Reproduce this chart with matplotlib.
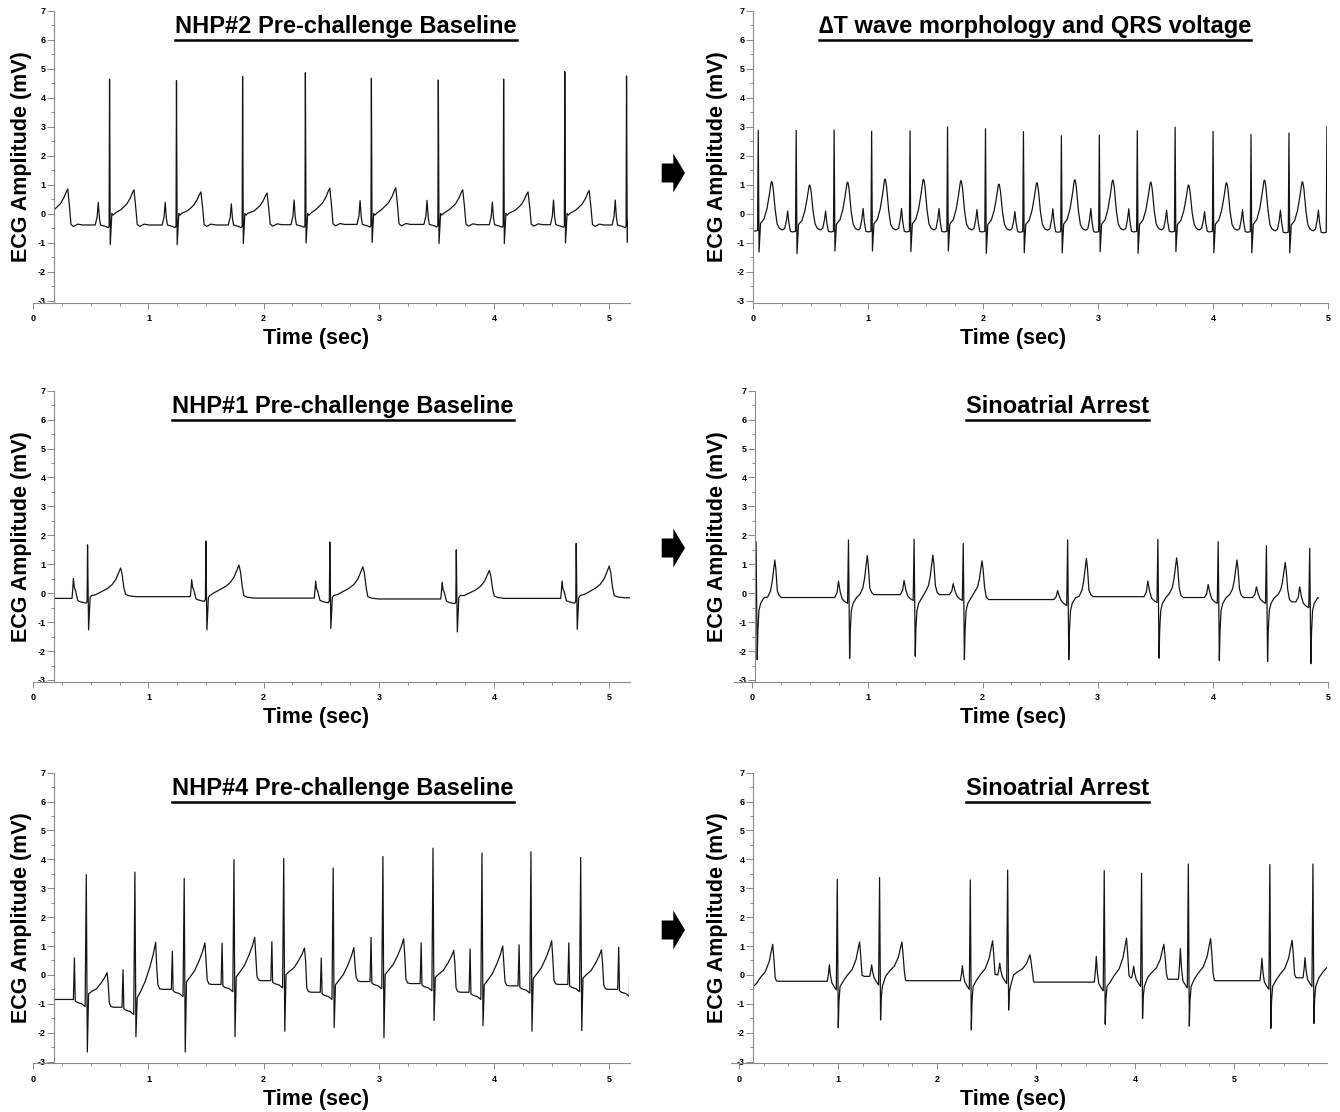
import numpy as np
import matplotlib
matplotlib.use("Agg")
import matplotlib.pyplot as plt
from matplotlib.patches import Polygon, Rectangle
from matplotlib.lines import Line2D
from matplotlib.transforms import IdentityTransform
from matplotlib.ticker import MultipleLocator, FuncFormatter

plt.rcParams['font.family'] = ['Liberation Sans', 'DejaVu Sans']

# ---- beat values (sec, mV) ----
# r_t: R peak times, r_v: R height, s_v: S depth, t_v: T peak after the beat,
# p_v: P peak before the beat, base: baseline level before the beat
# (first / last entries are beats just outside the visible window)

# NHP#2 pre-challenge baseline
nhp2_r_t = [0.087, 0.662, 1.243, 1.817, 2.362, 2.935, 3.516, 4.083, 4.614, 5.150]
nhp2_r_v = [4.70, 4.65, 4.60, 4.74, 4.87, 4.68, 4.62, 4.65, 4.91, 4.76]
nhp2_s_v = [-1.05, -1.06, -1.06, -1.02, -1.00, -0.98, -1.02, -1.02, -1.00, -0.98]
nhp2_t_v = [0.86, 0.83, 0.76, 0.72, 0.89, 0.90, 0.83, 0.76, 0.81, 0.80]
nhp2_p_v = [0.40, 0.40, 0.40, 0.35, 0.48, 0.46, 0.47, 0.41, 0.48, 0.48]
nhp2_base = [-0.38, -0.38, -0.38, -0.38, -0.37, -0.36, -0.36, -0.37, -0.37, -0.38]

# delta T wave morphology and QRS voltage
dt_r_t = [-0.287, 0.043, 0.373, 0.703, 1.029, 1.363, 1.689, 2.019, 2.349, 2.679,
          3.009, 3.339, 3.668, 3.998, 4.328, 4.658, 4.988]
dt_r_v = [2.90, 2.88, 2.88, 2.90, 2.85, 2.87, 3.00, 2.94, 2.84, 2.70,
          2.72, 2.87, 2.99, 2.85, 2.74, 2.79, 3.02]
dt_s_v = [-1.30, -1.31, -1.37, -1.28, -1.28, -1.30, -1.28, -1.36, -1.34, -1.34,
          -1.30, -1.36, -1.30, -1.34, -1.34, -1.34, -1.30]
dt_t_v = [1.10, 1.12, 1.00, 1.10, 1.20, 1.20, 1.15, 1.03, 1.08, 1.18,
          1.17, 1.10, 1.00, 1.08, 1.17, 1.11, 1.10]
dt_p_v = [0.12, 0.12, 0.10, 0.10, 0.19, 0.19, 0.19, 0.15, 0.08, 0.18,
          0.19, 0.18, 0.13, 0.08, 0.15, 0.13, 0.13]
dt_base = [-0.50, -0.52, -0.55, -0.55, -0.55, -0.55, -0.55, -0.55, -0.56, -0.56,
           -0.56, -0.55, -0.55, -0.55, -0.56, -0.58, -0.58]

# NHP#1 pre-challenge baseline
nhp1_r_t = [-0.600, 0.471, 1.498, 2.574, 3.672, 4.713, 5.750]
nhp1_r_v = [1.70, 1.67, 1.80, 1.77, 1.50, 1.72, 1.70]
nhp1_s_v = [-1.27, -1.27, -1.27, -1.22, -1.34, -1.25, -1.25]
nhp1_t_v = [0.90, 0.87, 0.97, 0.91, 0.79, 0.94, 0.90]
nhp1_p_v = [0.45, 0.51, 0.47, 0.42, 0.38, 0.42, 0.42]
nhp1_base = [-0.18, -0.18, -0.12, -0.17, -0.20, -0.18, -0.16]

# sinoatrial arrest (NHP#1)
sa1_r_t = [-0.800, 0.031, 0.834, 1.404, 1.831, 2.738, 3.522, 4.046, 4.465, 4.841, 5.500]
sa1_r_v = [1.70, 1.78, 1.84, 1.86, 1.72, 1.84, 1.86, 1.78, 1.64, 1.55, 1.70]
sa1_s_v = [-2.30, -2.30, -2.25, -2.18, -2.30, -2.30, -2.25, -2.33, -2.36, -2.44, -2.30]
sa1_t_v = [1.10, 1.15, 1.30, 1.32, 1.12, 1.20, 1.22, 1.15, 1.06, 1.00, 1.00]
sa1_p_v = [0.30, 0.30, 0.41, 0.44, 0.33, 0.09, 0.42, 0.30, 0.22, 0.22, 0.20]
sa1_base = [-0.20, -0.25, -0.15, -0.05, -0.05, -0.22, -0.12, -0.15, -0.15, -0.30, -0.30]

# NHP#4 pre-challenge baseline
nhp4_r_t = [-0.200, 0.460, 0.882, 1.310, 1.742, 2.174, 2.603, 3.035, 3.470,
            3.895, 4.320, 4.752, 5.185]
nhp4_r_v = [3.50, 3.47, 3.56, 3.34, 3.99, 4.03, 3.70, 4.10, 4.39, 4.22, 4.26, 4.07, 4.00]
nhp4_s_v = [-2.20, -2.67, -2.14, -2.67, -2.14, -1.95, -1.82, -2.18, -1.58, -1.76,
            -1.95, -1.93, -1.90]
nhp4_t_v = [-0.80, 0.08, 1.13, 1.11, 1.30, 0.93, 0.95, 1.25, 0.85, 1.00, 1.18, 0.87, 0.90]
nhp4_p_v = [0.50, 0.59, 0.18, 0.82, 1.10, 1.15, 0.59, 1.30, 1.11, 0.90, 1.04, 1.11, 0.96]
nhp4_base = [-0.90, -0.85, -1.12, -0.50, -0.33, -0.20, -0.60, -0.23, -0.30, -0.60,
             -0.38, -0.33, -0.50]

# sinoatrial arrest (NHP#4)
sa4_r_t = [0.116, 0.993, 1.420, 2.336, 2.713, 3.688, 4.065, 4.537, 5.360, 5.795, 6.300]
sa4_r_v = [3.30, 3.31, 3.37, 3.29, 3.63, 3.61, 3.52, 3.84, 3.82, 3.84, 3.50]
sa4_s_v = [-1.30, -1.83, -1.56, -1.90, -1.22, -1.71, -1.51, -1.77, -1.85, -1.68, -1.60]
sa4_t_v = [1.06, 1.14, 1.14, 1.18, 0.70, 1.27, 1.06, 1.26, 1.20, 1.20, 1.00]
sa4_p_v = [0.30, 0.35, 0.35, 0.32, 0.41, 0.64, 0.30, 0.91, 0.58, 0.60, 0.30]
sa4_base = [-0.30, -0.22, -0.05, -0.20, 0.00, -0.25, -0.10, -0.15, -0.20, -0.10, -0.20]

# beat shapes: (time from R, which value, weight, offset)
after_nhp2 = [(0.000, 'R', 1, 0), (0.006, 'S', 1, 0), (0.020, 'C', 0, 0.02),
              (0.030, 'C', 0, -0.04), (0.045, 'C', 0, 0.02), (0.100, 'T', 0.44, 0),
              (0.150, 'T', 0.60, 0), (0.180, 'T', 0.77, 0), (0.200, 'T', 0.93, 0),
              (0.212, 'T', 1.0, 0), (0.226, 'T', 0.55, 0), (0.240, 'B', 1, 0.02),
              (0.262, 'B', 1, -0.05), (0.300, 'B', 1, 0.03), (0.340, 'B', 1, 0.0)]
before_nhp2 = [(-0.125, 'B', 1, 0), (-0.108, 'P', 0.35, 0), (-0.098, 'P', 1, 0),
               (-0.088, 'P', 0.3, 0), (-0.078, 'B', 1, 0.0), (-0.035, 'B', 1, -0.05),
               (-0.012, 'B', 1, -0.09), (-0.004, 'B', 1, -0.04)]

after_dt = [(0.000, 'R', 1, 0), (0.007, 'S', 1, 0), (0.020, 'T', 0.12, 0),
            (0.050, 'T', 0.21, 0), (0.075, 'T', 0.42, 0), (0.095, 'T', 0.70, 0),
            (0.105, 'T', 0.87, 0), (0.112, 'T', 0.98, 0), (0.117, 'T', 1.0, 0),
            (0.122, 'T', 0.97, 0), (0.130, 'T', 0.85, 0), (0.148, 'T', 0.39, 0),
            (0.165, 'B', 1, 0.2), (0.185, 'B', 1, 0.05), (0.210, 'B', 1, 0.0)]
before_dt = [(-0.100, 'B', 1, 0.05), (-0.085, 'P', 0.5, 0), (-0.074, 'P', 1, 0),
             (-0.064, 'P', 0.4, 0), (-0.050, 'B', 1, -0.05), (-0.030, 'B', 1, -0.07),
             (-0.006, 'B', 1, -0.05)]

after_nhp1 = [(0.000, 'R', 1, 0), (0.009, 'S', 1, 0), (0.022, 'C', 0, -0.15),
              (0.035, 'C', 0, -0.08), (0.070, 'T', 0.12, 0), (0.120, 'T', 0.22, 0),
              (0.170, 'T', 0.32, 0), (0.210, 'T', 0.44, 0), (0.245, 'T', 0.62, 0),
              (0.270, 'T', 0.85, 0), (0.287, 'T', 1.0, 0), (0.300, 'T', 0.8, 0),
              (0.315, 'T', 0.35, 0), (0.330, 'B', 1, 0.08), (0.360, 'B', 1, 0.03),
              (0.420, 'B', 1, 0)]
before_nhp1 = [(-0.135, 'B', 1, 0), (-0.128, 'P', 0.5, 0), (-0.123, 'P', 1, 0),
               (-0.115, 'P', 0.55, 0), (-0.105, 'P', 0.4, 0), (-0.085, 'B', 1, -0.08),
               (-0.060, 'B', 1, -0.12), (-0.030, 'B', 1, -0.15), (-0.012, 'B', 1, -0.16),
               (-0.004, 'B', 1, -0.10)]

after_sa1 = [(0.000, 'R', 1, 0), (0.010, 'S', 1, 0), (0.016, 'S', 0.55, 0),
             (0.025, 'C', 0, -0.6), (0.040, 'C', 0, -0.35), (0.070, 'C', 0, -0.15),
             (0.100, 'T', 0.08, 0), (0.125, 'T', 0.23, 0), (0.140, 'T', 0.46, 0),
             (0.155, 'T', 0.81, 0), (0.163, 'T', 1.0, 0), (0.172, 'T', 0.77, 0),
             (0.185, 'T', 0.23, 0), (0.200, 'B', 1, 0.08), (0.220, 'B', 1, 0)]
before_sa1 = [(-0.120, 'B', 1, 0), (-0.100, 'P', 0.3, 0), (-0.087, 'P', 1, 0),
              (-0.072, 'P', 0.35, 0), (-0.055, 'B', 1, -0.05), (-0.030, 'B', 1, -0.15),
              (-0.008, 'B', 1, -0.20)]

after_nhp4 = [(0.000, 'R', 1, 0), (0.009, 'S', 1, 0), (0.020, 'T', 0.1, 0.1),
              (0.050, 'T', 0.2, 0.1), (0.090, 'T', 0.4, 0), (0.130, 'T', 0.62, 0),
              (0.160, 'T', 0.82, 0), (0.180, 'T', 1.0, 0), (0.190, 'T', 0.6, 0),
              (0.200, 'B', 1, 0.15), (0.215, 'B', 1, 0.02), (0.240, 'B', 1, 0)]
before_nhp4 = [(-0.112, 'B', 1, 0), (-0.103, 'P', 1, 0), (-0.096, 'B', 1, -0.05),
               (-0.080, 'B', 1, -0.10), (-0.040, 'B', 1, -0.15), (-0.010, 'B', 1, -0.25)]

after_sa4 = [(0.000, 'R', 1, 0), (0.010, 'S', 1, 0), (0.017, 'S', 0.5, 0),
             (0.028, 'C', 0, -0.4), (0.060, 'T', 0.0, 0), (0.100, 'T', 0.15, 0),
             (0.150, 'T', 0.30, 0), (0.190, 'T', 0.56, 0), (0.210, 'T', 0.82, 0),
             (0.225, 'T', 1.0, 0), (0.236, 'T', 0.67, 0), (0.250, 'T', 0.15, 0),
             (0.262, 'B', 1, 0.02), (0.270, 'B', 1, 0)]
before_sa4 = [(-0.100, 'B', 1, 0), (-0.088, 'P', 0.5, 0), (-0.080, 'P', 1, 0),
              (-0.070, 'P', 0.4, 0), (-0.055, 'B', 1, -0.05), (-0.030, 'B', 1, -0.2),
              (-0.010, 'B', 1, -0.3)]


def build_trace(r_t, r_v, s_v, t_v, p_v, base, after, before):
    ts, vs = [], []
    n = len(r_t)
    for i in range(n):
        nxt = base[i + 1] if i + 1 < n else base[i]
        pts = [(p, base[i]) for p in before] + [(p, nxt) for p in after]
        for (dt, key, f, off), b in pts:
            if key == 'R':
                v = f * r_v[i] + off
            elif key == 'S':
                v = f * s_v[i] + off
            elif key == 'T':
                v = f * t_v[i] + (1 - f) * base[i] + off
            elif key == 'P':
                v = f * p_v[i] + (1 - f) * base[i] + off
            elif key == 'B':
                v = b + off
            else:
                v = off
            t = r_t[i] + dt
            if ts and t <= ts[-1]:
                continue
            ts.append(t)
            vs.append(v)
    return np.array(ts), np.array(vs)


W, H = 1340, 1112
fig = plt.figure(figsize=(W / 100, H / 100), dpi=100)

rows_px = [(11, 302.7), (390.7, 681.7), (772.7, 1063.3)]

panels = [
    # title, data, shapes, row, x px range, xlim, spine x, clip, title x, xlabel x, ylabel px
    ("NHP#2 Pre-challenge Baseline",
     (nhp2_r_t, nhp2_r_v, nhp2_s_v, nhp2_t_v, nhp2_p_v, nhp2_base), (after_nhp2, before_nhp2),
     0, (33.3, 630), (0, 5.18), 0.18, (0.18, 5.165), 0.524, 0.474, 22),
    ("\u2206T wave morphology and QRS voltage",
     (dt_r_t, dt_r_v, dt_s_v, dt_t_v, dt_p_v, dt_base), (after_dt, before_dt),
     0, (753.3, 1328.3), (0, 5.0), 0.0, (0.0, 4.992), 0.49, 0.452, 718),
    ("NHP#1 Pre-challenge Baseline",
     (nhp1_r_t, nhp1_r_v, nhp1_s_v, nhp1_t_v, nhp1_p_v, nhp1_base), (after_nhp1, before_nhp1),
     1, (33.3, 630), (0, 5.18), 0.18, (0.18, 5.18), 0.519, 0.474, 22),
    ("Sinoatrial Arrest",
     (sa1_r_t, sa1_r_v, sa1_s_v, sa1_t_v, sa1_p_v, sa1_base), (after_sa1, before_sa1),
     1, (733.5, 1328), (-0.165, 5.0), 0.023, (0.023, 4.92), 0.545, 0.47, 718),
    ("NHP#4 Pre-challenge Baseline",
     (nhp4_r_t, nhp4_r_v, nhp4_s_v, nhp4_t_v, nhp4_p_v, nhp4_base), (after_nhp4, before_nhp4),
     2, (33.3, 630), (0, 5.18), 0.18, (0.18, 5.175), 0.519, 0.474, 22),
    ("Sinoatrial Arrest",
     (sa4_r_t, sa4_r_v, sa4_s_v, sa4_t_v, sa4_p_v, sa4_base), (after_sa4, before_sa4),
     2, (731.3, 1327.3), (-0.077, 5.94), 0.139, (0.139, 5.935), 0.547, 0.473, 718),
]

axis_col = '#8a8a8a'
titles = []
for (title, data, shape, row, xpx, xlim, spine_x, clip, tx, lx, ylab_px) in panels:
    top, bot = rows_px[row]
    ax = fig.add_axes([xpx[0] / W, 1 - bot / H, (xpx[1] - xpx[0]) / W, (bot - top) / H])
    ax.set_xlim(*xlim)
    ax.set_ylim(-3.06, 7)
    ax.patch.set_visible(False)
    for s in ('top', 'right'):
        ax.spines[s].set_visible(False)
    ax.spines['left'].set_position(('data', spine_x))
    for s in ('left', 'bottom'):
        ax.spines[s].set_color(axis_col)
        ax.spines[s].set_linewidth(0.8)

    ax.xaxis.set_major_locator(MultipleLocator(1))
    ax.xaxis.set_minor_locator(MultipleLocator(0.25))
    ax.yaxis.set_major_locator(MultipleLocator(1))
    ax.yaxis.set_minor_locator(MultipleLocator(0.5))
    ax.xaxis.set_major_formatter(FuncFormatter(lambda v, p: f"{v:.0f}"))
    ax.yaxis.set_major_formatter(FuncFormatter(lambda v, p: f"{v:.0f}"))
    ax.tick_params(axis='x', which='major', direction='out', length=4.3, width=0.7,
                   color=axis_col, pad=4, labelsize=6.5)
    ax.tick_params(axis='x', which='minor', direction='out', length=2.5, width=0.7,
                   color=axis_col)
    ax.tick_params(axis='y', which='major', direction='out', length=5, width=0.7,
                   color=axis_col, pad=1, labelsize=6.5)
    ax.tick_params(axis='y', which='minor', direction='out', length=2.5, width=0.7,
                   color=axis_col)
    for lab in ax.get_xticklabels() + ax.get_yticklabels():
        lab.set_fontweight('bold')

    t, v = build_trace(*data, *shape)
    line, = ax.plot(t, v, color='#151515', lw=0.9)
    clip_rect = Rectangle((clip[0], -10), clip[1] - clip[0], 30, transform=ax.transData)
    line.set_clip_path(clip_rect)

    ax.set_xlabel("Time (sec)", fontsize=15.5, fontweight='bold')
    ax.xaxis.set_label_coords(lx, -0.087)
    ax.set_ylabel("ECG Amplitude (mV)", fontsize=15.5, fontweight='bold', va='center')
    ax.yaxis.set_label_coords((ylab_px - xpx[0]) / (xpx[1] - xpx[0]), 0.5)

    txt = ax.text(tx, 1 - 22.3 / (bot - top), title, transform=ax.transAxes,
                  ha='center', va='baseline', fontsize=17, fontweight='bold')
    titles.append(txt)

# block arrows between the columns
for cy in (173, 548, 930):
    pts_px = [(661.7, cy - 9.5), (673.3, cy - 9.5), (673.3, cy - 19.5), (685, cy),
              (673.3, cy + 19.5), (673.3, cy + 9.5), (661.7, cy + 9.5)]
    pts = [(x / W, 1 - y / H) for x, y in pts_px]
    fig.add_artist(Polygon(pts, closed=True, facecolor='black', edgecolor='none',
                           transform=fig.transFigure))

# underline the titles
fig.canvas.draw()
renderer = fig.canvas.get_renderer()
for txt in titles:
    bb = txt.get_window_extent(renderer)
    fig.add_artist(Line2D([bb.x0, bb.x1], [bb.y0 - 1.5, bb.y0 - 1.5], lw=1.8,
                          color='black', transform=IdentityTransform()))

fig.savefig("out.png", dpi=100)
